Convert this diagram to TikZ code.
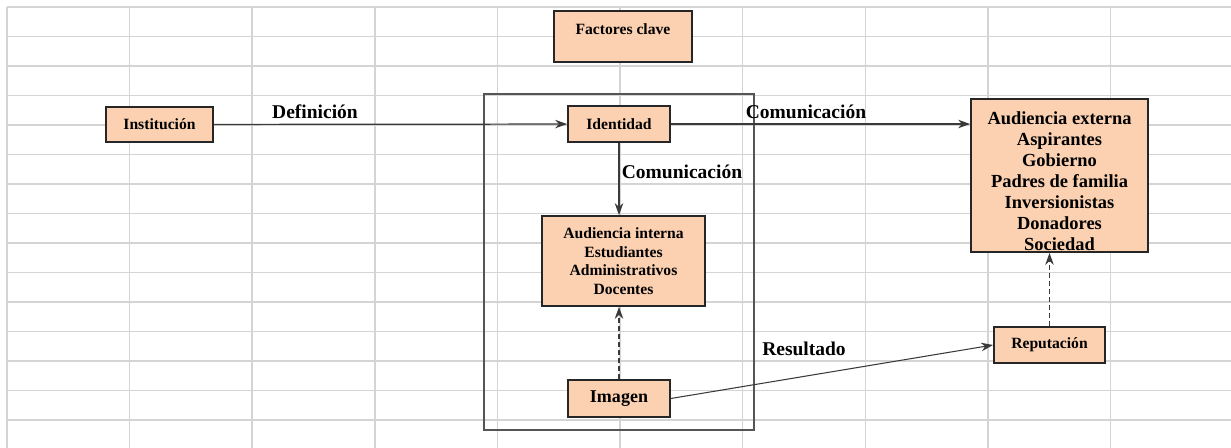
\documentclass[tikz,border=0pt]{standalone}
\usepackage{fontspec}
\setmainfont{Liberation Serif}
\usepackage{tikz}
\usetikzlibrary{arrows.meta,positioning}
\definecolor{peach}{HTML}{FBD1B1}
\definecolor{cellgrid}{HTML}{D4D4D4}
\definecolor{ink}{HTML}{3A3A3A}
\definecolor{framegray}{HTML}{555555}

\begin{document}
\begin{tikzpicture}[x=0.2mm,y=0.2mm,
  keybox/.style={draw=black!85,line width=1pt,fill=peach,inner sep=0pt,align=center,
    font=\bfseries\fontsize{8.9}{10.6}\selectfont},
  flowtag/.style={anchor=base,font=\bfseries\fontsize{11.1}{13}\selectfont},
  link/.style={draw=ink,line width=0.7pt,-{Stealth[length=2.4mm,width=1.7mm]}},
  dashlink/.style={link,dash pattern=on 1mm off 0.6mm}]
  \useasboundingbox (0,0) rectangle (1231,448);
  % spreadsheet grid behind the chart
  \foreach \i in {0,...,14} {
    \draw[cellgrid,line width=0.8pt] (7,441-29.5*\i) -- (1231,441-29.5*\i);
  }
  \foreach \i in {0,...,9} {
    \draw[cellgrid,line width=0.8pt] (7+122.6*\i,441) -- (7+122.6*\i,0);
  }
  \draw[framegray,line width=0.7pt] (484,354) rectangle (754,18);

  \node[keybox,minimum width=27.6mm,text height=4.6mm,text depth=5.5mm] (fact) at (623,411.5) {Factores clave};
  \node[keybox,minimum width=21.4mm,minimum height=7mm] (inst) at (159.5,323.5) {Institución};
  \node[keybox,minimum width=20.4mm,minimum height=7.2mm] (iden) at (619,324) {Identidad};
  \node[keybox,minimum width=35.4mm,minimum height=30.6mm,font=\bfseries\fontsize{10.5}{11.95}\selectfont] (ext) at (1059.5,272.5)
    {\rule{0pt}{4.9mm}Audiencia externa\\Aspirantes\\Gobierno\\Padres de familia\\Inversionistas\\Donadores\\Sociedad};
  \node[keybox,minimum width=32.6mm,minimum height=18mm] (int) at (623.5,187)
    {Audiencia interna\\Estudiantes\\Administrativos\\Docentes};
  \node[keybox,minimum width=20.4mm,minimum height=7.4mm,font=\bfseries\fontsize{10.25}{12}\selectfont] (img) at (619,49.5) {Imagen};
  \node[keybox,minimum width=22.2mm,minimum height=7.2mm] (rep) at (1049.5,103) {Reputación};

  \node[flowtag] (defi) at (315,329) {Definición};
  \node[flowtag] (comext) at (806,329) {Comunicación};
  \node[flowtag] (comint) at (682,269) {Comunicación};
  \node[flowtag] (resul) at (804,92) {Resultado};

  \draw[link] (inst) -- (iden);
  \draw[link] (iden.east) -- (iden.east -| ext.west);
  \draw[link] (iden.south) -- (iden.south |- int.north);
  \draw[dashlink] (img.north) -- (img.north |- int.south);
  \draw[link,line width=0.6pt] (img.east) -- (rep.west);
  \draw[dashlink] (rep.north) -- (rep.north |- ext.south);
\end{tikzpicture}
\end{document}
